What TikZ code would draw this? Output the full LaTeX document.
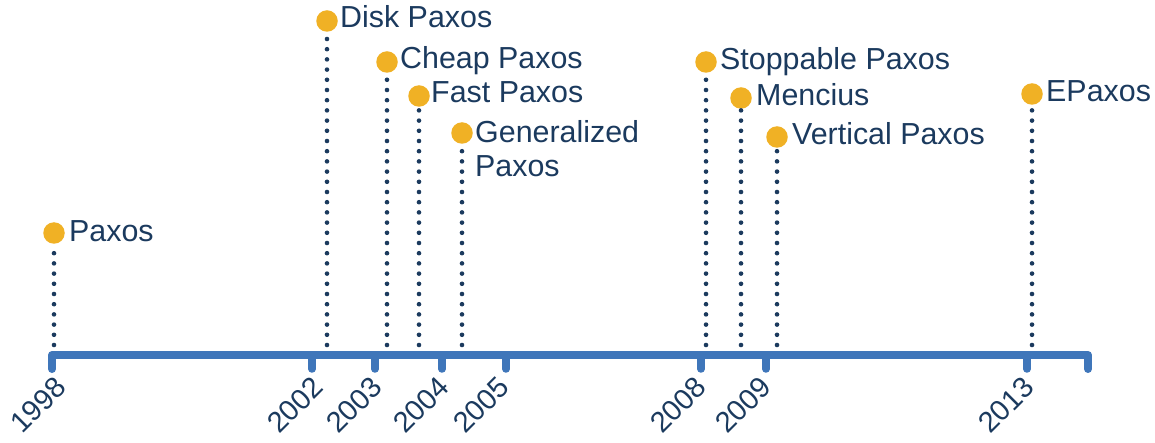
\documentclass[tikz,border=0pt]{standalone}
\usepackage{fontspec}
\setmainfont{Liberation Sans}
\definecolor{dotorange}{HTML}{F0B125}
\definecolor{navy}{HTML}{1B3A5E}
\definecolor{axisblue}{HTML}{3F76BA}
\begin{document}
\begin{tikzpicture}[x=1pt,y=-1pt,
  event/.style={circle,fill=dotorange,draw=none,minimum size=21.5pt,inner sep=0pt},
  evlabel/.style={anchor=base west,inner sep=0pt,text=navy,font=\fontsize{30.4}{34}\selectfont,align=left},
  yearlabel/.style={anchor=east,inner sep=0pt,rotate=45,text=navy,font=\fontsize{29}{32}\selectfont},
  stem/.style={draw=navy,line width=4.6pt,line cap=round,dash pattern=on 0pt off 10.2pt},
  axisline/.style={draw=axisblue,line width=8pt,line cap=round,line join=round},
  tickmark/.style={draw=axisblue,line width=7.5pt,line cap=round}]
\useasboundingbox (0,0) rectangle (1155,443);
% axis
\coordinate (a1998) at (52,355);
\coordinate (a2002) at (312,355);
\coordinate (a2003) at (375,355);
\coordinate (a2004) at (442,355);
\coordinate (a2005) at (506,355);
\coordinate (a2008) at (701,355);
\coordinate (a2009) at (766,355);
\coordinate (a2013) at (1027,355);
\coordinate (aend) at (1088,355);
\coordinate (t1998) at (52,369);
\coordinate (tend) at (1088,369);
\draw[axisline] (t1998) -- (a1998) -- (aend) -- (tend);
\foreach \n/\x in {2002/312,2003/375,2004/442,2005/506,2008/701,2009/766,2013/1027}{
  \coordinate (t\n) at (\x,369);
  \draw[tickmark] (a\n) -- (t\n);
}
% year labels
\node[yearlabel] (y1998) at (61,382) {1998};
\node[yearlabel] (y2002) at (318,382) {2002};
\node[yearlabel] (y2003) at (377,382) {2003};
\node[yearlabel] (y2004) at (444,382) {2004};
\node[yearlabel] (y2005) at (504,382) {2005};
\node[yearlabel] (y2008) at (701,382) {2008};
\node[yearlabel] (y2009) at (766,382) {2009};
\node[yearlabel] (y2013) at (1029,382) {2013};
% events
\foreach \id/\x/\y in {paxos/54/233, disk/327/21, cheap/387/62, fast/419/96, gen/462/133,
                      stop/706/62, menc/741/98, vert/777/137, epax/1032/94}{
  \coordinate (b\id) at (\x,345);
  \node[event] (e\id) at (\x,\y) {};
  \draw[stem] (b\id) -- (e\id);
}
\node[evlabel] (lpaxos) at ([xshift=15pt,yshift=-9pt]epaxos.center) {Paxos};
\node[evlabel] (ldisk) at ([xshift=13pt,yshift=-7pt]edisk.center) {Disk Paxos};
\node[evlabel] (lcheap) at ([xshift=13pt,yshift=-7pt]echeap.center) {Cheap Paxos};
\node[evlabel] (lfast) at ([xshift=12pt,yshift=-7pt]efast.center) {Fast Paxos};
\node[evlabel] (lgen) at ([xshift=13pt,yshift=-44pt]egen.center) {Generalized\\Paxos};
\node[evlabel] (lstop) at ([xshift=14pt,yshift=-8pt]estop.center) {Stoppable Paxos};
\node[evlabel] (lmenc) at ([xshift=15pt,yshift=-8pt]emenc.center) {Mencius};
\node[evlabel] (lvert) at ([xshift=15pt,yshift=-8pt]evert.center) {Vertical Paxos};
\node[evlabel] (lepax) at ([xshift=14pt,yshift=-8pt]eepax.center) {EPaxos};
\end{tikzpicture}
\end{document}
